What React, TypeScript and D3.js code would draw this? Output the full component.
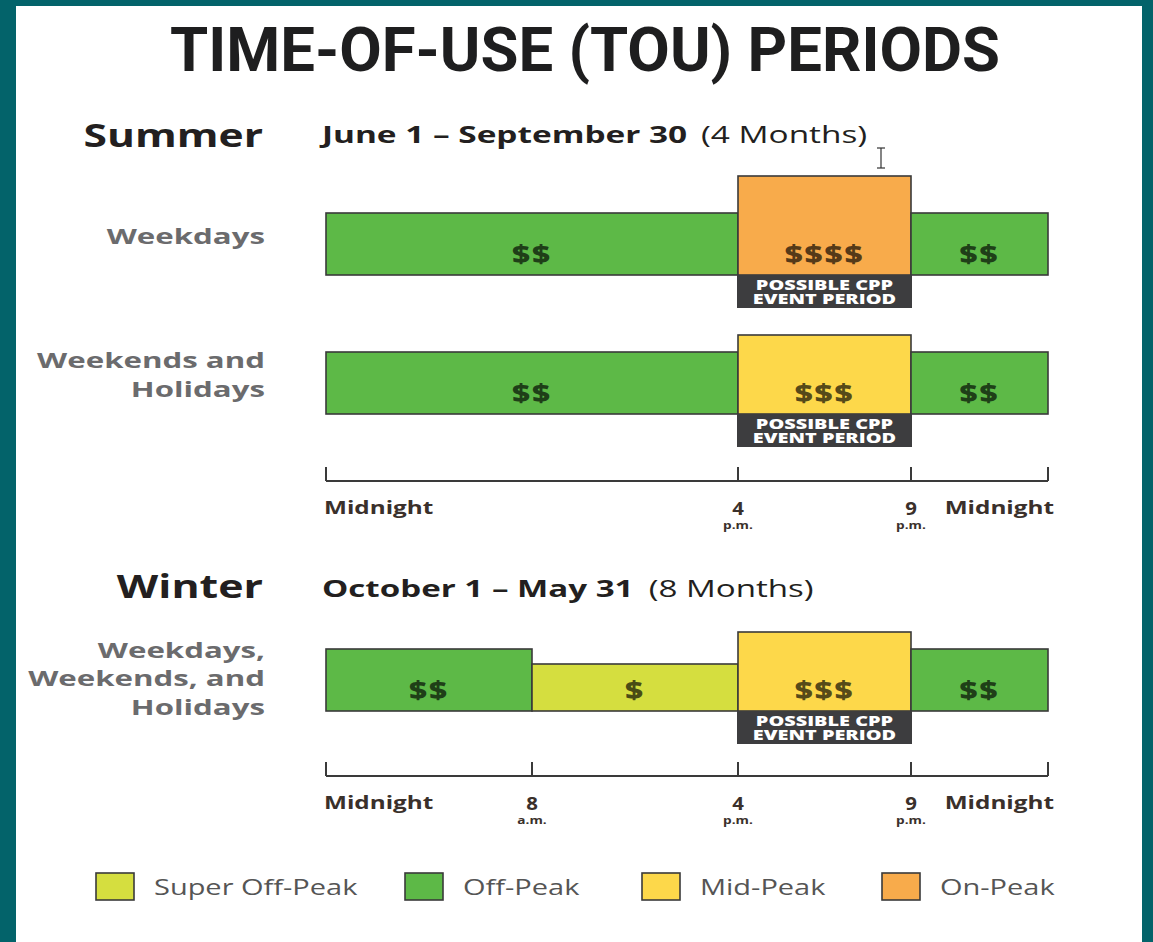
import * as d3 from 'd3';
import React from 'react';

// hour marks used along the day axis
const hourMarks = [0, 8, 16, 21, 24];

// rate tiers: label shown in legend, dollar signs, colour
const tiers = ['super', 'off', 'mid', 'on'];
const tierNames = ['Super Off-Peak', 'Off-Peak', 'Mid-Peak', 'On-Peak'];
const tierDollars = ['$', '$$', '$$$', '$$$$'];
const tierColors = ['#d5de3f', '#5db947', '#fdd84a', '#f8ab4b'];

// periods per row: [start hour, end hour, tier]
const summerWeekdays = [[0, 16, 'off'], [16, 21, 'on'], [21, 24, 'off']];
const summerWeekends = [[0, 16, 'off'], [16, 21, 'mid'], [21, 24, 'off']];
const winterAllDays = [[0, 8, 'off'], [8, 16, 'super'], [16, 21, 'mid'], [21, 24, 'off']];

// possible CPP event window
const cppWindow = [16, 21];

const summerTicks = [0, 16, 21, 24];
const winterTicks = [0, 8, 16, 21, 24];
const tickNames = { 0: 'Midnight', 8: '8', 16: '4', 21: '9', 24: 'Midnight' };
const tickSub = { 8: 'a.m.', 16: 'p.m.', 21: 'p.m.' };

const FONT = "'Open Sans', 'DejaVu Sans', sans-serif";

// the source graphic is stretched sideways, so text gets a horizontal scale
function T({ x, y, sx = 1.38, anchor = 'start', children, ...rest }) {
  return (
    <text transform={`translate(${x},${y}) scale(${sx},1)`} textAnchor={anchor}
      fontFamily={FONT} {...rest}>{children}</text>
  );
}

function Row({ x, barH, bottom, periods, label }) {
  const cx = (x(cppWindow[0]) + x(cppWindow[1])) / 2;
  return (
    <g>
      {periods.map((p, i) => {
        const x0 = x(p[0]), x1 = x(p[1]);
        const h = barH(p[2]);
        return (
          <g key={i}>
            <rect x={x0} y={bottom - h} width={x1 - x0} height={h}
              fill={tierColors[tiers.indexOf(p[2])]} stroke="#3a3a3a" strokeWidth={1.6} />
            <T x={(x0 + x1) / 2} y={bottom - 12} anchor="middle" sx={1.25}
              fontWeight={800} fontSize={25} letterSpacing={1.5}
              fill="#000" fillOpacity={0.66}>
              {tierDollars[tiers.indexOf(p[2])]}
            </T>
          </g>
        );
      })}
      <rect x={x(cppWindow[0]) - 1} y={bottom} width={x(cppWindow[1]) - x(cppWindow[0]) + 2}
        height={33} fill="#3d3d3f" />
      <T x={cx} y={bottom + 15} anchor="middle" sx={1.42} fontWeight={800} fontSize={14}
        fill="#fff">
        <tspan x={0}>POSSIBLE CPP</tspan>
        <tspan x={0} dy={14}>EVENT PERIOD</tspan>
      </T>
      {label.map((l, i) => (
        <T key={i} x={265} y={l[1]} anchor="end" sx={1.42}
          fontWeight={700} fontSize={22} fill="#6b6b6d">{l[0]}</T>
      ))}
    </g>
  );
}

function Axis({ x, y, ticks }) {
  return (
    <g>
      <line x1={x(0)} x2={x(24)} y1={y} y2={y} stroke="#3a3a3a" strokeWidth={2} />
      {ticks.map(t => (
        <g key={t}>
          <line x1={x(t)} x2={x(t)} y1={y} y2={y - 14} stroke="#3a3a3a" strokeWidth={2} />
          {t === 0 && <T x={x(t) - 2} y={y + 33} sx={1.35} fontWeight={700}
            fontSize={18} fill="#3a302b">{tickNames[t]}</T>}
          {t === 24 && <T x={x(t) + 6} y={y + 33} anchor="end" sx={1.35}
            fontWeight={700} fontSize={18} fill="#3a302b">{tickNames[t]}</T>}
          {t > 0 && t < 24 && <g>
            <T x={x(t)} y={y + 34} anchor="middle" sx={1.2} fontWeight={700}
              fontSize={17} fill="#3a302b">{tickNames[t]}</T>
            <T x={x(t)} y={y + 48} anchor="middle" sx={1.3} fontWeight={700}
              fontSize={10.5} fill="#3a302b">{tickSub[t]}</T>
          </g>}
        </g>
      ))}
    </g>
  );
}

export default function App() {
  const width = 1153, height = 942;

  // hand-drawn schedule is not to scale, so piecewise scale on the hour marks
  const x = d3.scaleLinear().domain(hourMarks).range([326, 532, 738, 911, 1048]);
  const barH = d3.scaleOrdinal().domain(tiers).range([47, 62, 79, 99]);
  const legendX = d3.scaleOrdinal().domain(tierNames).range([96, 405, 642, 882]);

  return (
    <svg width={width} height={height} style={{ position: 'absolute', left: 0, top: 0 }}>
      <rect width={width} height={height} fill="#03636a" />
      <rect x={16} y={6} width={1126} height={height} fill="#fff" />

      <text x={585} y={71} textAnchor="middle" fontFamily="Roboto, 'DejaVu Sans', sans-serif"
        fontWeight={700} fontSize={61} fill="#1e1e1f" textLength={830}
        lengthAdjust="spacingAndGlyphs">TIME-OF-USE (TOU) PERIODS</text>

      <T x={263} y={147} anchor="end" sx={1.33} fontWeight={700}
        fontSize={32} fill="#231f20">Summer</T>
      <T x={322} y={143} sx={1.39} fontSize={24} fill="#231f20">
        <tspan fontWeight={700}>June 1 – September 30</tspan>
        <tspan fontWeight={400} dx={10}>(4 Months)</tspan>
      </T>
      <g stroke="#333" strokeWidth={1.2}>
        <line x1={881} x2={881} y1={148} y2={168} />
        <line x1={877} x2={885} y1={148} y2={148} />
        <line x1={877} x2={885} y1={168} y2={168} />
      </g>

      <Row x={x} barH={barH} bottom={275} periods={summerWeekdays}
        label={[['Weekdays', 244]]} />
      <Row x={x} barH={barH} bottom={414} periods={summerWeekends}
        label={[['Weekends and', 368], ['Holidays', 397]]} />
      <Axis x={x} y={481} ticks={summerTicks} />

      <T x={263} y={598} anchor="end" sx={1.34} fontWeight={700}
        fontSize={32} fill="#231f20">Winter</T>
      <T x={322} y={597} sx={1.38} fontSize={24} fill="#231f20">
        <tspan fontWeight={700}>October 1 – May 31</tspan>
        <tspan fontWeight={400} dx={11}>(8 Months)</tspan>
      </T>

      <Row x={x} barH={barH} bottom={711} periods={winterAllDays}
        label={[['Weekdays,', 658], ['Weekends, and', 686], ['Holidays', 715]]} />
      <Axis x={x} y={776} ticks={winterTicks} />

      {tierNames.map((n, i) => (
        <g key={n}>
          <rect x={legendX(n)} y={873} width={38} height={27} fill={tierColors[i]}
            stroke="#3a3a3a" strokeWidth={1.6} />
          <T x={legendX(n) + 58} y={895} sx={1.38} fontSize={21} fill="#555">{n}</T>
        </g>
      ))}
    </svg>
  );
}
